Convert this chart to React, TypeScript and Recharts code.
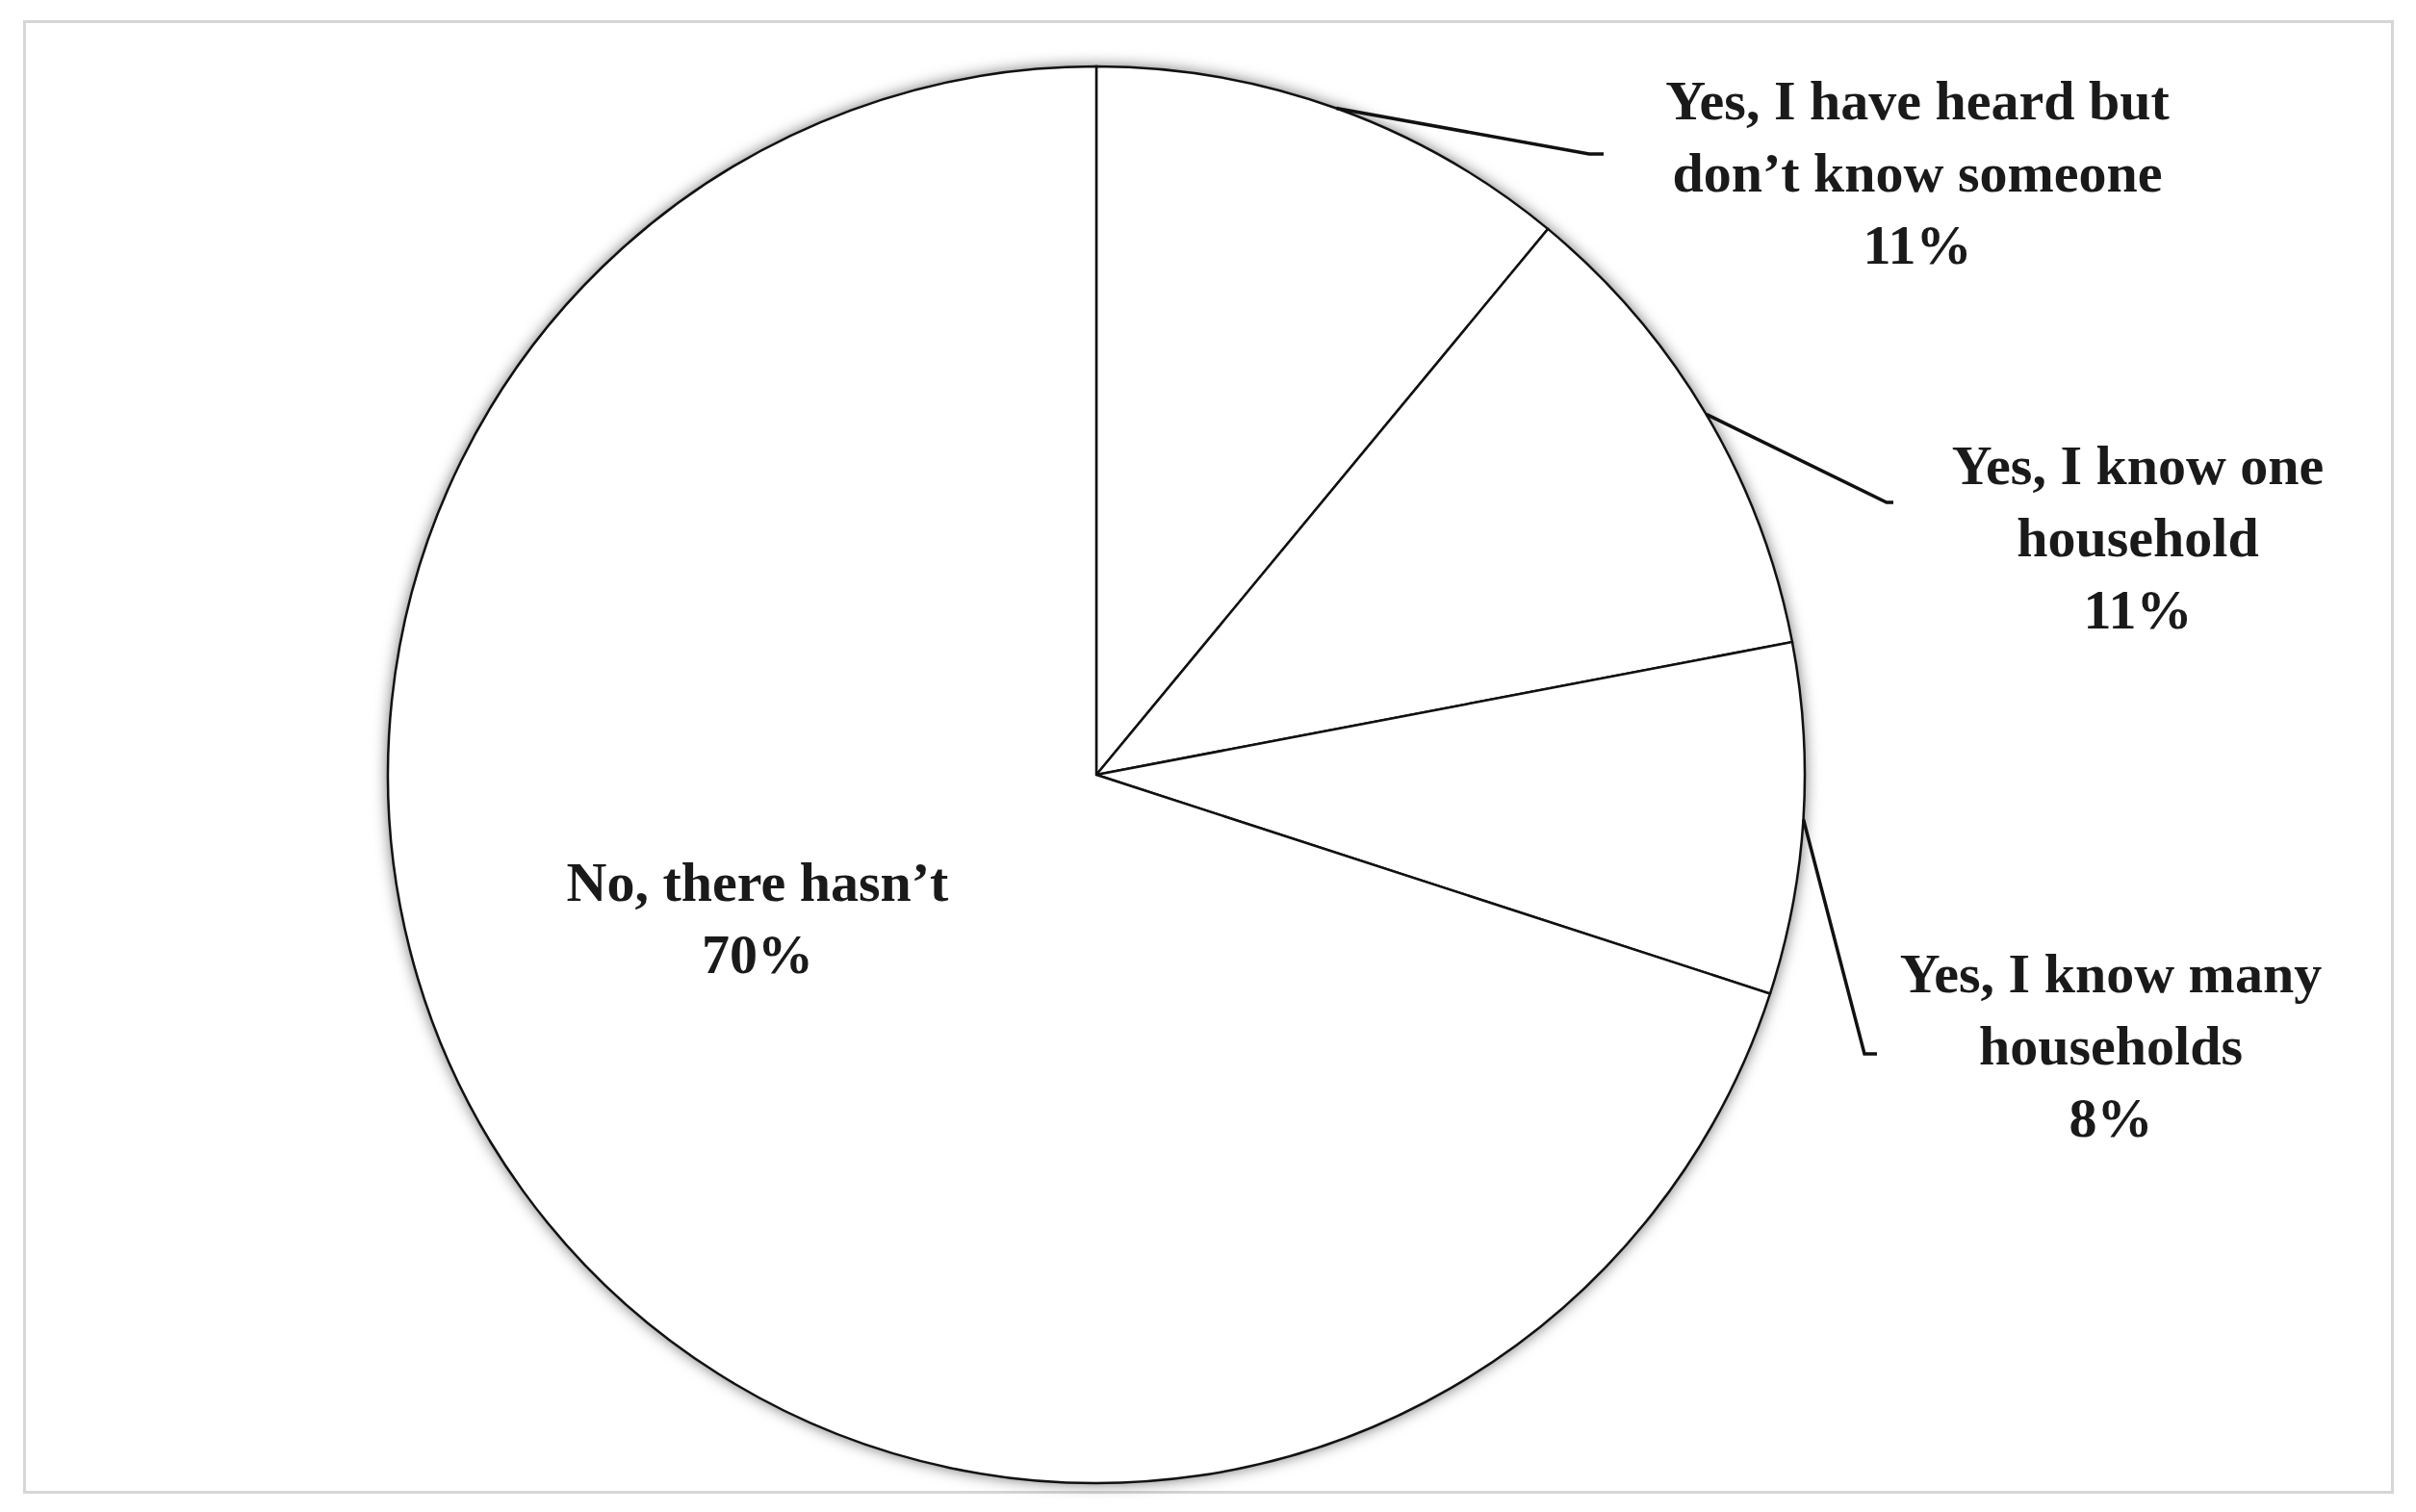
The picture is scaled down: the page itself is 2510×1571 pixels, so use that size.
import { PieChart, Pie, Cell } from "recharts";

// survey answers (clockwise from 12 o'clock)
const categories = [
  "Yes, I have heard but\ndon’t know someone",
  "Yes, I know one\nhousehold",
  "Yes, I know many\nhouseholds",
  "No, there hasn’t",
];
const shares = [11, 11, 8, 70];

const data = categories.map((name, i) => ({ name, value: shares[i] }));

// label placement, offsets from the pie centre (text centre / first baseline, leader elbow, tick end)
const labelLayout: { tx: number; ty: number; ex?: number; ey?: number; hx?: number }[] = [
  { tx: 853, ty: -681, ex: 512, ey: -645, hx: 527 },
  { tx: 1082, ty: -302, ex: 821, ey: -283, hx: 828 },
  { tx: 1054, ty: 226, ex: 798, ey: 290, hx: 811 },
  { tx: -352, ty: 131 },
];

const RAD = Math.PI / 180;
const LINE_H = 75;

function renderLabel(props: any) {
  const { cx, cy, midAngle, outerRadius, index, value } = props;
  const name = props.payload?.name ?? props.name;
  const l = labelLayout[index];
  const lines = [...String(name).split("\n"), `${value}%`];
  const sx = cx + outerRadius * Math.cos(-midAngle * RAD);
  const sy = cy + outerRadius * Math.sin(-midAngle * RAD);
  return (
    <g key={`lbl-${index}`}>
      {l.ex != null && (
        <polyline
          points={`${sx},${sy} ${cx + l.ex},${cy + l.ey!} ${cx + l.hx!},${cy + l.ey!}`}
          fill="none"
          stroke="#111"
          strokeWidth={3.5}
        />
      )}
      <text
        x={cx + l.tx}
        y={cy + l.ty}
        textAnchor="middle"
        fontFamily="'Liberation Serif', 'Times New Roman', serif"
        fontWeight="bold"
        fontSize={58}
        fill="#1a1a1a"
      >
        {lines.map((t, i) => (
          <tspan key={i} x={cx + l.tx} dy={i === 0 ? 0 : LINE_H}>
            {t}
          </tspan>
        ))}
      </text>
    </g>
  );
}

export default function App() {
  return (
    <div style={{ position: "absolute", left: 0, top: 0, width: 2510, height: 1571, background: "#fff" }}>
      {/* outer frame */}
      <div
        style={{
          position: "absolute",
          left: 24,
          top: 21,
          width: 2463,
          height: 1531,
          border: "3px solid #d6d6d6",
          boxSizing: "border-box",
        }}
      />
      <div style={{ position: "absolute", left: 0, top: 0 }}>
        <PieChart width={2510} height={1571}>
          {/* shadow layer */}
          <Pie
            data={data}
            dataKey="value"
            cx={1134}
            cy={800}
            outerRadius={736}
            startAngle={90}
            endAngle={-270}
            stroke="none"
            isAnimationActive={false}
          >
            {data.map((_, i) => (
              <Cell key={i} fill="#fff" style={{ filter: "drop-shadow(0px 0px 8px rgba(0,0,0,0.6))" }} />
            ))}
          </Pie>
          <Pie
            data={data}
            dataKey="value"
            cx={1134}
            cy={800}
            outerRadius={736}
            startAngle={90}
            endAngle={-270}
            stroke="#111"
            strokeWidth={2.5}
            labelLine={false}
            label={renderLabel}
            isAnimationActive={false}
          >
            {data.map((_, i) => (
              <Cell key={i} fill="#fff" />
            ))}
          </Pie>
        </PieChart>
      </div>
    </div>
  );
}
